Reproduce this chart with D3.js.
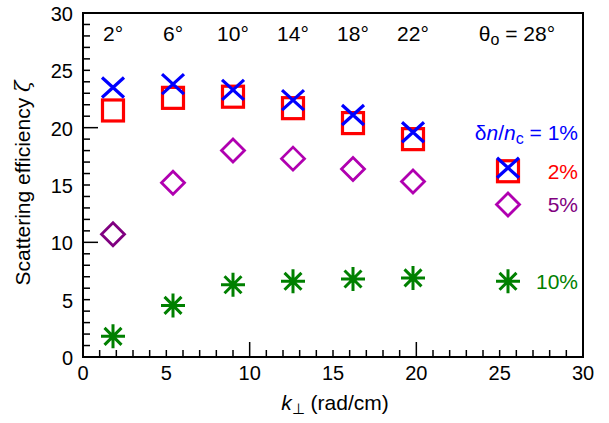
<!DOCTYPE html>
<html><head><meta charset="utf-8">
<script src="https://cdn.jsdelivr.net/npm/d3@7"></script>
<style>body{margin:0;background:#fff}svg{display:block}text{font-family:"Liberation Sans",Arial,sans-serif}</style>
</head><body><svg id="c" width="609" height="423"></svg>
<script>
// data
const kperp = [1.8, 5.4, 9.0, 12.6, 16.2, 19.8];
const angleLabels = ["2°", "6°", "10°", "14°", "18°", "22°"];
const zeta1 = [23.5, 23.8, 23.3, 22.4, 21.1, 19.6];
const zeta2 = [21.5, 22.6, 22.7, 21.7, 20.4, 19.0];
const zeta5 = [10.7, 15.2, 18.0, 17.3, 16.4, 15.3];
const zeta10 = [1.8, 4.5, 6.3, 6.6, 6.8, 6.9];
const legendK = 25.5;
const legendZeta = [16.5, 16.2, 13.3, 6.6];
const legendLabels = ["1%", "2%", "5%", "10%"];
const xTickLabels = [0, 5, 10, 15, 20, 25, 30];
const yTickLabels = [0, 5, 10, 15, 20, 25, 30];

const svg = d3.select("#c");
const L = 83, R = 583, T = 13, B = 357;
const x = d3.scaleLinear().domain([0, 30]).range([L, R]);
const y = d3.scaleLinear().domain([0, 30]).range([B, T]);
const FS = 20, FT = 21;

// ticks
const g = svg.append("g");
d3.range(0, 31).forEach(v => {
  const major = v % 10 === 0;
  const len = major ? 15 : 7;
  g.append("line").attr("x1", x(v)).attr("x2", x(v)).attr("y1", B).attr("y2", B - len)
    .attr("stroke", "#000").attr("stroke-width", 1.5);
  g.append("line").attr("x1", L).attr("x2", L + len).attr("y1", y(v)).attr("y2", y(v))
    .attr("stroke", "#000").attr("stroke-width", 1.5);
});
svg.append("rect").attr("x", L).attr("y", T).attr("width", R - L).attr("height", B - T)
  .attr("fill", "none").attr("stroke", "#000").attr("stroke-width", 2);

xTickLabels.forEach(v => svg.append("text").attr("x", x(v)).attr("y", B + 23)
  .attr("text-anchor", "middle").attr("font-size", FS).text(v));
yTickLabels.forEach(v => svg.append("text").attr("x", L - 10).attr("y", y(v) + 8)
  .attr("text-anchor", "end").attr("font-size", FS).text(v));

// axis labels
const xl = svg.append("text").attr("x", 335).attr("y", 410).attr("text-anchor", "middle").attr("font-size", FT);
xl.append("tspan").attr("font-style", "italic").text("k");
xl.append("tspan").attr("font-size", 15).attr("dy", 4).text("⊥");
xl.append("tspan").attr("dy", -4).text(" (rad/cm)");

const yl = svg.append("text").attr("transform", "translate(30,183) rotate(-90)")
  .attr("text-anchor", "middle").attr("font-size", FT);
yl.append("tspan").text("Scattering efficiency ");
yl.append("tspan").attr("font-style", "italic").attr("font-family", "DejaVu Serif").text("ζ");

// angle labels
angleLabels.forEach((s, i) => svg.append("text").attr("x", x(kperp[i])).attr("y", 41)
  .attr("text-anchor", "middle").attr("font-size", FT).text(s));
const th = svg.append("text").attr("x", 517).attr("y", 41).attr("text-anchor", "middle").attr("font-size", FT);
th.append("tspan").text("θ");
th.append("tspan").attr("font-size", 16).attr("dy", 4).text("o");
th.append("tspan").attr("dy", -4).text(" = 28°");

// marker shapes
const blue = "#0000ff", red = "#ff0000", mag = "#b000b0", purp = "#800080", green = "#008000";
function cross(sel, cx, cy, c) {
  sel.append("path").attr("d", `M${cx-11},${cy-10}L${cx+11},${cy+10}M${cx-11},${cy+10}L${cx+11},${cy-10}`)
    .attr("stroke", c).attr("stroke-width", 3.2).attr("fill", "none");
}
function square(sel, cx, cy, c) {
  sel.append("rect").attr("x", cx - 10.5).attr("y", cy - 10.5).attr("width", 21).attr("height", 21)
    .attr("stroke", c).attr("stroke-width", 3.2).attr("fill", "none");
}
function diamond(sel, cx, cy, c) {
  const r = 11.5;
  sel.append("path").attr("d", `M${cx},${cy-r}L${cx+r},${cy}L${cx},${cy+r}L${cx-r},${cy}Z`)
    .attr("stroke", c).attr("stroke-width", 2.8).attr("fill", "none");
}
function aster(sel, cx, cy, c) {
  let d = "";
  for (let k = 0; k < 4; k++) {
    const a = k * Math.PI / 4, r = 12;
    d += `M${cx - r*Math.cos(a)},${cy - r*Math.sin(a)}L${cx + r*Math.cos(a)},${cy + r*Math.sin(a)}`;
  }
  sel.append("path").attr("d", d).attr("stroke", c).attr("stroke-width", 3).attr("fill", "none");
}

const m = svg.append("g");
zeta10.forEach((v, i) => aster(m, x(kperp[i]), y(v), green));
zeta5.forEach((v, i) => diamond(m, x(kperp[i]), y(v), i === 0 ? purp : mag));
zeta2.forEach((v, i) => square(m, x(kperp[i]), y(v), red));
zeta1.forEach((v, i) => cross(m, x(kperp[i]), y(v), blue));

// legend markers
square(m, x(legendK), y(legendZeta[1]), red);
cross(m, x(legendK), y(legendZeta[0]), blue);
diamond(m, x(legendK), y(legendZeta[2]), mag);
aster(m, x(legendK), y(legendZeta[3]), green);

// legend labels
const LX = 578;
const t1 = svg.append("text").attr("x", LX).attr("y", 140).attr("text-anchor", "end").attr("font-size", FT).attr("fill", blue);
t1.append("tspan").text("δ");
t1.append("tspan").attr("font-style", "italic").text("n");
t1.append("tspan").text("/");
t1.append("tspan").attr("font-style", "italic").text("n");
t1.append("tspan").attr("font-size", 16).attr("dy", 4).text("c");
t1.append("tspan").attr("dy", -4).text(" = " + legendLabels[0]);
svg.append("text").attr("x", LX).attr("y", y(legendZeta[1]) + 8).attr("text-anchor", "end").attr("font-size", FT).attr("fill", red).text(legendLabels[1]);
svg.append("text").attr("x", LX).attr("y", y(legendZeta[2]) + 8).attr("text-anchor", "end").attr("font-size", FT).attr("fill", purp).text(legendLabels[2]);
svg.append("text").attr("x", LX).attr("y", y(legendZeta[3]) + 8).attr("text-anchor", "end").attr("font-size", FT).attr("fill", green).text(legendLabels[3]);
</script></body></html>
